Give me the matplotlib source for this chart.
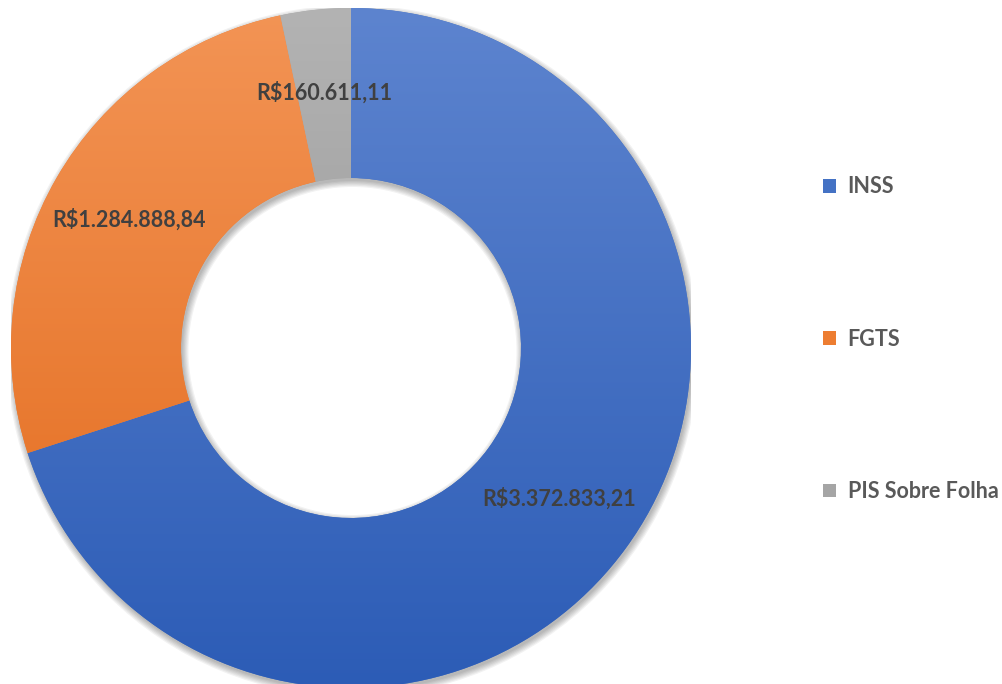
import numpy as np
import matplotlib.pyplot as plt
from matplotlib.colors import LinearSegmentedColormap
from matplotlib.patches import Patch, Wedge

# Dados
categorias = ['INSS', 'FGTS', 'PIS Sobre Folha']
valores = [3372833.21, 1284888.84, 160611.11]
rotulos = ['R$3.372.833,21', 'R$1.284.888,84', 'R$160.611,11']

# cores (topo, base) para o degradê
cores_topo = ['#5D84CF', '#F39455', '#B3B3B3']
cores_base = ['#2C5CB6', '#E2691A', '#8C8C8C']
cores_legenda = ['#4472C4', '#ED7D31', '#A5A5A5']

plt.rcParams['font.family'] = ['Lato', 'DejaVu Sans']

fig = plt.figure(figsize=(10.03, 6.84), dpi=100)
R = 340
cx, cy = 351, 348
ax = fig.add_axes([(cx - R) / 1003, (684 - cy - R) / 684, 2 * R / 1003, 2 * R / 684])
ax.set_aspect('equal')
ax.axis('off')

# sombra suave (deslocada para baixo)
px = 1 / R
for k in range(6):
    ax.add_patch(Wedge((1.5 * px, -3 * px), 1 + k * 1.2 * px, 0, 360,
                       width=0.5 + 2 * k * 1.2 * px, facecolor='black',
                       edgecolor='none', alpha=0.05, zorder=0))

wedges, _ = ax.pie(valores, radius=1, startangle=90, counterclock=False,
                   wedgeprops=dict(width=0.5, linewidth=0), colors=cores_legenda)

# degradê vertical em cada fatia
grad = np.linspace(0, 1, 256).reshape(-1, 1)
for w, c1, c2 in zip(wedges, cores_topo, cores_base):
    cmap = LinearSegmentedColormap.from_list('g', [c1, c2])
    im = ax.imshow(grad, cmap=cmap, extent=[-1, 1, -1, 1], origin='upper',
                   aspect='auto', zorder=w.get_zorder() + 0.1)
    im.set_clip_path(w)

# rótulos no meio do anel
total = sum(valores)
ang = 90
for v, txt in zip(valores, rotulos):
    frac = v / total * 360
    mid = np.radians(ang - frac / 2)
    ang -= frac
    ax.text(0.755 * np.cos(mid), 0.755 * np.sin(mid), txt, ha='center', va='center',
            fontsize=15.5, fontweight='bold', color='#404040', zorder=5)

ax.set_xlim(-1, 1)
ax.set_ylim(-1, 1)

# legenda
handles = [Patch(facecolor=c, edgecolor='none') for c in cores_legenda]
fig.legend(handles, categorias, loc='center left', bbox_to_anchor=(0.8205, 0.504),
           frameon=False, labelcolor='#595959', handlelength=0.6,
           handleheight=0.6, handletextpad=0.55, labelspacing=6.1,
           borderaxespad=0, borderpad=0,
           prop=dict(weight='bold', size=15.5))

fig.savefig('out.png', dpi=100)
